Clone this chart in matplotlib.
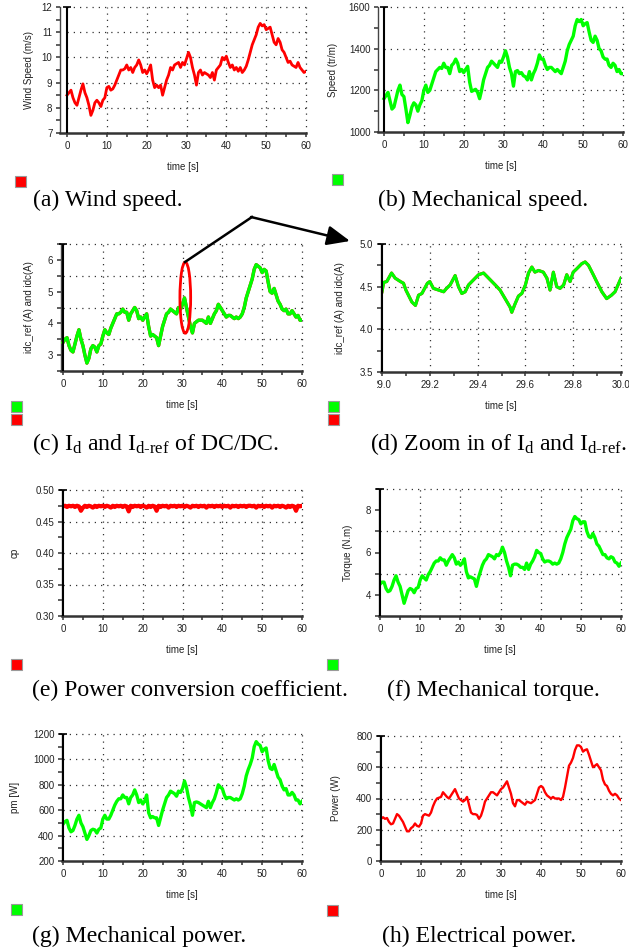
import numpy as np
import matplotlib
matplotlib.use('Agg')
import matplotlib.pyplot as plt
from matplotlib.patches import Rectangle, Ellipse, FancyArrowPatch
from matplotlib.lines import Line2D
from matplotlib.transforms import Bbox

plt.rcParams['font.family'] = ['Liberation Sans', 'DejaVu Sans']
plt.rcParams['mathtext.fontset'] = 'custom'
plt.rcParams['mathtext.rm'] = 'Liberation Serif'
plt.rcParams['mathtext.it'] = 'Liberation Serif:italic'
plt.rcParams['mathtext.bf'] = 'Liberation Serif:bold'

# ---------------- data ----------------
time_s = np.linspace(0, 60, 121)          # 0.5 s sampling grid

wind_speed = [
    8.5, 8.6, 8.7, 8.4, 8.2, 8.1, 8.4, 8.7, 8.95, 8.6,
    8.4, 8.1, 7.7, 7.9, 8.2, 8.3, 8.2, 8.05, 8.3, 8.4,
    8.8, 8.85, 8.7, 8.75, 8.9, 9.1, 9.3, 9.5, 9.5, 9.55,
    9.7, 9.5, 9.6, 9.4, 9.6, 9.7, 9.9, 9.7, 9.4, 9.5,
    9.35, 9.5, 9.7, 9.1, 8.8, 8.9, 8.8, 8.9, 8.5, 8.8,
    9.1, 9.3, 9.6, 9.5, 9.7, 9.75, 9.8, 9.6, 9.8, 9.7,
    9.95, 10.2, 10.0, 9.6, 9.3, 8.9, 9.4, 9.5, 9.3, 9.4,
    9.35, 9.3, 9.2, 9.4, 9.1, 9.5, 9.6, 9.7, 10.0, 9.9,
    10.05, 9.8, 9.6, 9.7, 9.5, 9.6, 9.45, 9.6, 9.4, 9.5,
    9.65, 9.9, 10.2, 10.5, 10.7, 10.9, 11.2, 11.35, 11.25, 11.3,
    11.1, 11.15, 11.2, 10.9, 10.6, 10.5, 10.75, 10.6, 10.3, 10.2,
    10.0, 9.8, 9.85, 9.7, 9.65, 9.6, 9.8, 9.6, 9.5, 9.4,
    9.45]

mech_speed = [
    1160, 1175, 1190, 1150, 1110, 1120, 1160, 1200, 1225, 1180,
    1170, 1110, 1045, 1080, 1120, 1140, 1130, 1100, 1130, 1150,
    1200, 1225, 1190, 1200, 1230, 1260, 1290, 1300, 1310, 1305,
    1330, 1310, 1310, 1280, 1320, 1330, 1350, 1330, 1290, 1300,
    1285, 1300, 1315, 1240, 1195, 1200, 1205, 1190, 1160, 1200,
    1250, 1280, 1310, 1320, 1340, 1330, 1320, 1310, 1340, 1335,
    1360, 1390, 1360, 1310, 1280, 1220, 1290, 1295, 1280, 1285,
    1270, 1265, 1250, 1290, 1250, 1280, 1300, 1330, 1370, 1350,
    1350, 1320, 1300, 1310, 1310, 1300, 1290, 1300, 1290, 1280,
    1310, 1340, 1390, 1420, 1440, 1460, 1510, 1540, 1530, 1540,
    1510, 1520, 1525, 1480, 1440, 1430, 1460, 1440, 1400, 1390,
    1360, 1350, 1350, 1320, 1310, 1330, 1320, 1290, 1300, 1280,
    1280]

idc = [
    3.4, 3.5, 3.55, 3.3, 3.15, 3.1, 3.35, 3.6, 3.8, 3.5,
    3.3, 3.0, 2.75, 2.9, 3.2, 3.3, 3.25, 3.1, 3.3, 3.35,
    3.6, 3.8, 3.7, 3.65, 3.85, 4.0, 4.15, 4.3, 4.3, 4.35,
    4.45, 4.35, 4.35, 4.1, 4.3, 4.4, 4.5, 4.4, 4.15, 4.2,
    4.1, 4.2, 4.3, 3.9, 3.6, 3.65, 3.6, 3.55, 3.3, 3.6,
    3.9, 4.1, 4.3, 4.35, 4.45, 4.4, 4.35, 4.3, 4.5, 4.45,
    4.6, 4.8, 4.5, 4.2, 3.9, 3.7, 4.0, 4.05, 4.1, 4.1,
    4.1, 4.05, 4.0, 4.2, 4.0, 4.15, 4.3, 4.4, 4.6, 4.5,
    4.4, 4.3, 4.2, 4.25, 4.25, 4.2, 4.15, 4.2, 4.15, 4.2,
    4.3, 4.5, 4.8, 5.0, 5.2, 5.4, 5.7, 5.85, 5.8, 5.75,
    5.6, 5.7, 5.65, 5.3, 5.0, 4.95, 5.1, 4.9, 4.7, 4.6,
    4.45, 4.4, 4.45, 4.3, 4.3, 4.4, 4.3, 4.2, 4.25, 4.1,
    4.1]
idc_ref = list(idc)   # reference current coincides with the measured one

t_zoom = [29.00, 29.007, 29.02, 29.04, 29.055, 29.077, 29.09, 29.10, 29.125, 29.14,
          29.153, 29.167, 29.19, 29.20, 29.215, 29.237, 29.258, 29.27, 29.285, 29.306,
          29.32, 29.334, 29.348, 29.362, 29.383, 29.404, 29.425, 29.446, 29.474, 29.494,
          29.515, 29.536, 29.543, 29.557, 29.571, 29.585, 29.60, 29.613, 29.627, 29.64,
          29.655, 29.675, 29.69, 29.703, 29.717, 29.731, 29.745, 29.76, 29.773, 29.787,
          29.80, 29.815, 29.836, 29.85, 29.864, 29.884, 29.898, 29.92, 29.94, 29.96,
          29.975, 30.0]
idc_zoom = [4.44, 4.55, 4.56, 4.66, 4.6, 4.56, 4.54, 4.46, 4.32, 4.28,
            4.4, 4.42, 4.54, 4.56, 4.48, 4.46, 4.44, 4.48, 4.52, 4.63,
            4.5, 4.42, 4.44, 4.52, 4.58, 4.64, 4.66, 4.6, 4.52, 4.46,
            4.36, 4.26, 4.2, 4.3, 4.39, 4.42, 4.52, 4.66, 4.73, 4.67,
            4.69, 4.67, 4.6, 4.46, 4.67, 4.5, 4.48, 4.52, 4.64, 4.56,
            4.67, 4.71, 4.77, 4.79, 4.75, 4.64, 4.56, 4.44, 4.36, 4.4,
            4.44, 4.6]
idc_ref_zoom = list(idc_zoom)

cp = [
    0.474, 0.475, 0.473, 0.475, 0.474, 0.475, 0.473, 0.475, 0.474, 0.467,
    0.472, 0.475, 0.473, 0.475, 0.474, 0.472, 0.475, 0.473, 0.475, 0.474,
    0.475, 0.473, 0.475, 0.474, 0.472, 0.475, 0.473, 0.475, 0.474, 0.475,
    0.473, 0.475, 0.474, 0.466, 0.475, 0.473, 0.475, 0.474, 0.475, 0.473,
    0.475, 0.474, 0.472, 0.475, 0.473, 0.475, 0.474, 0.467, 0.475, 0.473,
    0.475, 0.474, 0.475, 0.472, 0.475, 0.474, 0.475, 0.473, 0.475, 0.474,
    0.475, 0.473, 0.475, 0.474, 0.472, 0.475, 0.474, 0.475, 0.473, 0.475,
    0.474, 0.475, 0.472, 0.475, 0.474, 0.475, 0.473, 0.475, 0.474, 0.475,
    0.473, 0.475, 0.474, 0.475, 0.472, 0.475, 0.474, 0.475, 0.473, 0.475,
    0.474, 0.475, 0.473, 0.475, 0.475, 0.474, 0.475, 0.472, 0.475, 0.474,
    0.475, 0.473, 0.475, 0.474, 0.475, 0.472, 0.475, 0.474, 0.475, 0.473,
    0.475, 0.474, 0.472, 0.475, 0.473, 0.475, 0.474, 0.467, 0.475, 0.474,
    0.475]

torque = [
    4.5, 4.6, 4.6, 4.3, 4.15, 4.2, 4.4, 4.7, 4.9, 4.6,
    4.4, 4.0, 3.6, 3.9, 4.2, 4.3, 4.25, 4.1, 4.3, 4.35,
    4.7, 4.9, 4.8, 4.7, 4.95, 5.1, 5.3, 5.5, 5.6, 5.6,
    5.75, 5.65, 5.65, 5.4, 5.6, 5.75, 5.9, 5.75, 5.45, 5.55,
    5.4, 5.5, 5.7, 5.1, 4.8, 4.85, 4.8, 4.75, 4.4, 4.8,
    5.1, 5.4, 5.6, 5.7, 5.9, 5.85, 5.8, 5.7, 5.9, 5.85,
    6.0, 6.25, 6.0, 5.6, 5.3, 4.9, 5.4, 5.45, 5.45, 5.4,
    5.3, 5.3, 5.2, 5.5, 5.2, 5.45, 5.6, 5.8, 6.1, 6.0,
    5.95, 5.7, 5.55, 5.6, 5.6, 5.55, 5.45, 5.5, 5.45, 5.5,
    5.7, 6.0, 6.4, 6.7, 6.9, 7.1, 7.5, 7.7, 7.6, 7.55,
    7.35, 7.45, 7.45, 7.0, 6.75, 6.7, 6.9, 6.7, 6.4, 6.3,
    6.1, 5.9, 5.9, 5.75, 5.7, 5.8, 5.75, 5.55, 5.5, 5.35,
    5.5]

mech_power = [
    490, 510, 520, 460, 430, 440, 480, 530, 560, 500,
    470, 420, 370, 400, 440, 450, 445, 420, 450, 460,
    530, 560, 530, 530, 560, 600, 640, 670, 690, 690,
    720, 700, 700, 650, 700, 720, 760, 720, 660, 680,
    650, 670, 720, 580, 540, 550, 540, 540, 480, 540,
    600, 650, 700, 720, 750, 740, 730, 710, 750, 740,
    770, 830, 780, 700, 640, 560, 660, 665, 660, 650,
    640, 630, 620, 670, 620, 660, 690, 740, 800, 780,
    770, 720, 690, 700, 700, 690, 680, 690, 680, 690,
    730, 790, 870, 920, 960, 1010, 1100, 1140, 1120, 1110,
    1060, 1080, 1090, 990, 930, 920, 960, 910, 860, 840,
    790, 760, 770, 720, 720, 740, 720, 680, 680, 650,
    670]

elec_power = [
    270, 280, 270, 275, 250, 235, 240, 270, 300, 290,
    270, 250, 220, 190, 190, 210, 220, 240, 225, 220,
    240, 290, 300, 295, 290, 310, 350, 380, 400, 405,
    410, 440, 425, 410, 400, 420, 440, 460, 430, 400,
    390, 380, 390, 410, 360, 310, 300, 300, 295, 270,
    290, 330, 380, 400, 420, 440, 440, 430, 420, 440,
    460, 470, 490, 510, 470, 430, 370, 350, 390, 390,
    380, 370, 360, 380, 375, 370, 380, 390, 430, 470,
    480, 470, 440, 420, 410, 400, 410, 400, 400, 400,
    390, 410, 470, 540, 610, 630, 660, 710, 740, 740,
    730, 700, 710, 715, 680, 640, 600, 610, 620, 600,
    580, 520, 490, 480, 450, 430, 420, 430, 420, 400,
    390]

y_labels = ['Wind Speed (m/s)', 'Speed (tr/m)', 'idc_ref (A) and idc(A)',
            'idc_ref (A) and idc(A)', 'cp', 'Torque (N.m)', 'pm [W]', 'Power (W)']
captions = ['(a) Wind speed.', '(b) Mechanical speed.',
            r'(c) I$_\mathrm{d}$ and I$_\mathrm{d\text{-}ref}$ of DC/DC.',
            r'(d) Zoom in of I$_\mathrm{d}$ and I$_\mathrm{d\text{-}ref}$.',
            '(e) Power conversion coefficient.', '(f) Mechanical torque.',
            '(g) Mechanical power.', '(h) Electrical power.']

# ---------------- layout ----------------
W, H = 629, 951
fig = plt.figure(figsize=(W / 100, H / 100), dpi=100)
fig.patch.set_facecolor('white')

RED = '#ff0000'
GREEN = '#00ff00'

# box: (left, top, right, bottom) in px, x0px: pixel of first data x
panels = [
    dict(box=(60, 7, 306, 133), x0px=67, xlim=(0, 60), ylim=(7, 12), xs=5, xl=10,
         ys=0.5, yl=1, yg=np.arange(8, 12.01, 1), xg=np.arange(10, 60.1, 10), dec=0, xdec=0, ylx=29),
    dict(box=(378, 7, 623, 132), x0px=384, xlim=(0, 60), ylim=(1000, 1600), xs=5, xl=10,
         ys=100, yl=200, yg=np.arange(1200, 1601, 200), xg=np.arange(10, 60.1, 10), dec=0, xdec=0, ylx=333),
    dict(box=(61, 244, 302, 371), x0px=63, xlim=(0, 60), ylim=(2.5, 6.5), xs=5, xl=10,
         ys=0.5, yl=1, yg=np.arange(3.5, 6.51, 1), xg=np.arange(10, 60.1, 10), dec=0, xdec=0, ylx=29),
    dict(box=(381, 244, 621, 372), x0px=382, xlim=(29, 30), ylim=(3.5, 5.0), xs=0.1, xl=0.2,
         ys=0.25, yl=0.5, yg=np.arange(4.0, 5.01, 0.5), xg=np.arange(29.2, 30.01, 0.2), dec=1, xdec=1, ylx=340),
    dict(box=(62, 490, 302, 616), x0px=63, xlim=(0, 60), ylim=(0.30, 0.50), xs=5, xl=10,
         ys=0.025, yl=0.05, yg=np.arange(0.35, 0.501, 0.05), xg=np.arange(10, 60.1, 10), dec=2, xdec=0, ylx=15),
    dict(box=(379, 489, 621, 616), x0px=380, xlim=(0, 60), ylim=(3, 9), xs=5, xl=10,
         ys=1, yl=2, yg=np.arange(5, 9.01, 2), xg=np.arange(10, 60.1, 10), dec=0, xdec=0, ylx=348),
    dict(box=(62, 734, 302, 861), x0px=63, xlim=(0, 60), ylim=(200, 1200), xs=5, xl=10,
         ys=100, yl=200, yg=np.arange(400, 1201, 200), xg=np.arange(10, 60.1, 10), dec=0, xdec=0, ylx=15),
    dict(box=(380, 736, 621, 861), x0px=381, xlim=(0, 60), ylim=(0, 800), xs=5, xl=10,
         ys=100, yl=200, yg=np.arange(200, 801, 200), xg=np.arange(10, 60.1, 10), dec=0, xdec=0, ylx=336),
]


def is_major(v, step):
    q = v / step
    return abs(q - round(q)) < 1e-6


axes = []
for p, ylab in zip(panels, y_labels):
    l, t, r, b = p['box']
    ax = fig.add_axes([l / W, 1 - b / H, (r - l) / W, (b - t) / H])
    x0, x1 = p['xlim']
    y0, y1 = p['ylim']
    xmin = x0 - (p['x0px'] - l) * (x1 - x0) / (r - p['x0px'])
    ax.set_xlim(xmin, x1)
    ax.set_ylim(y0, y1)
    xt = np.round(np.arange(x0, x1 + 1e-9, p['xs']), 6)
    yt = np.round(np.arange(y0, y1 + 1e-9, p['ys']), 6)
    ax.set_xticks(xt, [f"{v:.{p['xdec']}f}" if is_major(v, p['xl']) else '' for v in xt])
    ax.set_yticks(yt, [f"{v:.{p['dec']}f}" if is_major(v, p['yl']) else '' for v in yt])
    ax.tick_params(axis='both', direction='out', length=3, width=1.1, color='#333333',
                   labelsize=7, labelcolor='#222222', pad=2.5)
    for s in ('top', 'right'):
        ax.spines[s].set_visible(False)
    ax.spines['left'].set_color('#444444')
    ax.spines['left'].set_linewidth(1.0)
    ax.spines['bottom'].set_color('#333333')
    ax.spines['bottom'].set_linewidth(1.8)
    # dotted grid
    ax.hlines(p['yg'], x0, x1, colors='#333333', linestyles=(0, (1, 4)), lw=0.9, zorder=1, clip_on=False)
    ax.vlines(p['xg'], y0, y1, colors='#333333', linestyles=(0, (1, 4)), lw=0.9, zorder=1, clip_on=False)
    # black vertical axis line at data start
    ax.axvline(x0, color='black', lw=1.5, zorder=4)
    ax.plot([x0], [y1], marker='_', ms=6, mew=1.2, color='black', clip_on=False, zorder=5)
    ax.set_ylabel(ylab, fontsize=7, color='#222222')
    ax.yaxis.label.set_verticalalignment('center')
    ax.yaxis.set_label_coords((p['ylx'] - l) / (r - l), 0.5)
    ax.set_xlabel('time [s]', fontsize=7, color='#222222')
    ax.xaxis.set_label_coords(0.5, -29 / (b - t))
    axes.append(ax)

ax_a, ax_b, ax_c, ax_d, ax_e, ax_f, ax_g, ax_h = axes

ax_a.plot(time_s, wind_speed, color=RED, lw=2.0, zorder=3)
ax_b.plot(time_s, mech_speed, color=GREEN, lw=2.4, zorder=3)
ax_c.plot(time_s, idc_ref, color=RED, lw=2.4, zorder=3)
ax_c.plot(time_s, idc, color=GREEN, lw=2.4, zorder=3)
ax_d.plot(t_zoom, idc_ref_zoom, color=RED, lw=2.2, zorder=3)
ax_d.plot(t_zoom, idc_zoom, color=GREEN, lw=2.2, zorder=3)
ax_e.plot(time_s, cp, color=RED, lw=3.0, zorder=3)
ax_f.plot(time_s, torque, color=GREEN, lw=2.4, zorder=3)
ax_g.plot(time_s, mech_power, color=GREEN, lw=2.4, zorder=3)
ax_h.plot(time_s, elec_power, color=RED, lw=1.7, zorder=3)

# highlight ellipse on (c)
ax_c.add_patch(Ellipse((30.7, 4.81), 2.7, 2.24, fill=False, ec=RED, lw=2.0, zorder=6, clip_on=False))


def fx(x):
    return x / W


def fy(y):
    return 1 - y / H


fig.add_artist(Line2D([fx(185), fx(252)], [fy(262), fy(217)], color='black', lw=1.8,
                      transform=fig.transFigure))
fig.add_artist(FancyArrowPatch((fx(251), fy(217)), (fx(350), fy(241)), transform=fig.transFigure,
                               arrowstyle='-|>,head_length=0.7,head_width=0.3', mutation_scale=20,
                               color='black', lw=1.8, shrinkA=0, shrinkB=0))

# legend squares (left, top px, colour)
squares = [(15, 176, RED), (332, 174, GREEN), (11, 401, GREEN), (11, 414, RED),
           (328, 401, GREEN), (328, 414, RED), (11, 659, RED), (327, 659, GREEN),
           (11, 904, GREEN), (327, 905, RED)]
for x, y, c in squares:
    fig.add_artist(Rectangle((fx(x), fy(y + 11)), 11 / W, 11 / H, transform=fig.transFigure,
                             fc=c, ec='#9a9a9a', lw=0.8))

# captions (left px, baseline px)
cap_pos = [(33, 206), (378, 206), (32, 450), (370, 450), (32, 696), (387, 696), (32, 942), (382, 942)]
for (x, y), txt in zip(cap_pos, captions):
    fig.text(fx(x), fy(y), txt, fontfamily='Liberation Serif', fontsize=17.1, va='baseline',
             ha='left', color='black')

fig.canvas.draw()
clip = Bbox.from_extents(377, 0, W + 10, H)
for lbl in ax_d.get_xticklabels():
    lbl.set_clip_box(clip)
    lbl.set_clip_on(True)

fig.savefig('out.png', dpi=100)
